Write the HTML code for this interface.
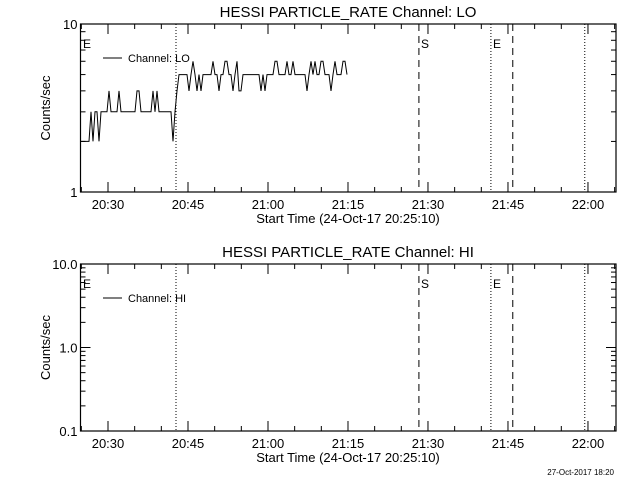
<!DOCTYPE html>
<html><head><meta charset="utf-8"><style>
html,body{margin:0;padding:0;background:#fff;}
svg{display:block;font-family:"Liberation Sans",sans-serif;}
</style></head><body>
<svg id="c" width="640" height="480" viewBox="0 0 640 480"></svg>
<script>
// sample values (counts/sec), channel LO, sampled every stepMin from startMin (minutes rel. 20:30)
const loValues=[2,2,2,2,2,3,2,3,3,2,3,3,3,3,4,3,3,3,3,4,3,3,3,3,3,3,3,3,4,4,3,3,3,3,3,3,4,3,4,3,3,3,3,3,3,3,2,3,4,5,
5,5,5,5,4,5,6,5,4,5,4,5,5,5,5,5,6,5,5,4,5,5,6,6,5,5,4,5,6,4,4,5,5,5,5,5,5,5,5,5,4,5,4,5,5,5,5,6,6,5,
5,5,5,6,5,5,6,5,5,5,5,5,5,4,5,6,5,6,5,5,6,6,5,5,5,4,5,6,5,5,5,6,6,5];
const hiValues=[];
const startMin=-5.06, stepMin=0.375;
const xTickLabels=["20:30","20:45","21:00","21:15","21:30","21:45","22:00"];
const xTickMins=[0,15,30,45,60,75,90];
const markerMins=[12.75,58.3,71.8,75.9,89.4];
const markerStyles=["dot","dash","dot","dash","dot"];
const topYTicks=[1,10], topYLabels=["1","10"];
const botYTicks=[0.1,1,10], botYLabels=["0.1","1.0","10.0"];

const svg=document.getElementById('c');
const NS="http://www.w3.org/2000/svg";
function el(t,a,p){const e=document.createElementNS(NS,t);for(const k in a)e.setAttribute(k,a[k]);(p||svg).appendChild(e);return e;}
const X0=80.5,X1=616,minPerPx=1/5.333,xRef=108;
function xs(m){return xRef+m*5.333;}
function drawPanel(name,top,bot,ymin,ymax,yt,yl,values,chan){
  const g=el('g',{});
  
  
  const ly=v=>bot-(Math.log10(v)-Math.log10(ymin))/(Math.log10(ymax)-Math.log10(ymin))*(bot-top);
  const fr=el('rect',{x:X0,y:top,width:X1-X0,height:bot-top,fill:'none',stroke:'#000','stroke-width':1.2},g);
  
  
  // title
  const t=el('text',{x:348,y:top-7,'text-anchor':'middle','font-size':15},g);
  t.textContent="HESSI PARTICLE_RATE Channel: "+chan;
  
  
  // y ticks
  for(let d=Math.log10(ymin);d<Math.log10(ymax);d++){
    for(let k=1;k<=9;k++){const v=Math.pow(10,d)*k;const y=ly(v);const len=k==1?10:5;
      el('line',{x1:X0,x2:X0+len,y1:y,y2:y,stroke:'#000'},g);el('line',{x1:X1,x2:X1-len,y1:y,y2:y,stroke:'#000'},g);}
  }
  yt.forEach((v,i)=>{const tx=el('text',{x:X0-3,y:ly(v)+5,'text-anchor':'end','font-size':13},g);tx.textContent=yl[i];
    
    });
  const yl2=el('text',{transform:`translate(50,${(top+bot)/2}) rotate(-90)`,'text-anchor':'middle','font-size':13},g);
  yl2.textContent="Counts/sec";
  
  
  // x ticks
  for(let m=-5;m<=95;m+=5){const x=xs(m);if(x<X0||x>X1)continue;const len=(m%15==0)?10:5;
    el('line',{x1:x,x2:x,y1:bot,y2:bot-len,stroke:'#000'},g);el('line',{x1:x,x2:x,y1:top,y2:top+len,stroke:'#000'},g);}
  xTickLabels.forEach((s,i)=>{const tx=el('text',{x:xs(xTickMins[i]),y:bot+17,'text-anchor':'middle','font-size':13},g);tx.textContent=s;
    
    });
  const xt=el('text',{x:348,y:bot+31,'text-anchor':'middle','font-size':13},g);
  xt.textContent="Start Time (24-Oct-17 20:25:10)";
  
  
  // markers
  markerMins.forEach((m,i)=>{const x=xs(m);const l=el('line',{x1:x,x2:x,y1:top,y2:bot,stroke:'#000','stroke-width':1,'stroke-dasharray':markerStyles[i]=='dot'?'1,2':'7,5'},g);
    
    });
  [["E",83],["S",421],["E",493]].forEach(([s,x])=>{const tx=el('text',{x:x,y:top+24,'font-size':12},g);tx.textContent=s;
    
    });
  // legend
  el('line',{x1:103,x2:122,y1:top+34,y2:top+34,stroke:'#000'},g);
  const lt=el('text',{x:128,y:top+38,'font-size':11},g);lt.textContent="Channel: "+chan;
  
  
  // series (step style)
  if(values.length){let d="";values.forEach((v,i)=>{const x=xs(startMin+i*stepMin),y=ly(v);d+=(i?"L":"M")+x.toFixed(1)+","+y.toFixed(1);});
    const p=el('path',{d:d,fill:'none',stroke:'#000','stroke-width':1},g);
    
    }
}
drawPanel('lo',24,192,1,10,topYTicks,topYLabels,loValues,'LO');
drawPanel('hi',264,431,0.1,10,botYTicks,botYLabels,hiValues,'HI');
const f=el('text',{x:614,y:475,'text-anchor':'end','font-size':8});
f.textContent="27-Oct-2017 18:20";


</script>
</body></html>
